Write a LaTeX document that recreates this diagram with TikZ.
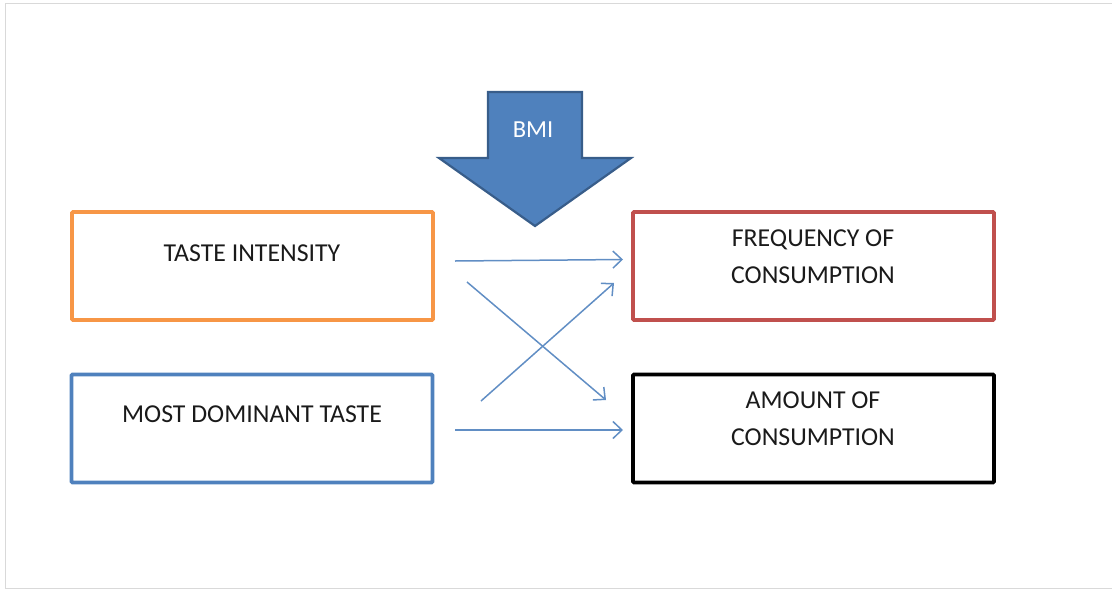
\documentclass[tikz,border=0pt]{standalone}
\usepackage{fontspec}
\setmainfont{Carlito}
\usetikzlibrary{arrows.meta,calc}
\definecolor{oOrange}{HTML}{F79646}
\definecolor{oBlue}{HTML}{4F81BD}
\definecolor{oRed}{HTML}{C0504D}
\definecolor{oDark}{HTML}{385D8A}
\definecolor{oFrame}{HTML}{D9D9D9}
\definecolor{oText}{HTML}{1A1A1A}
\begin{document}
\begin{tikzpicture}[x=1pt,y=-1pt,
  boxst/.style={draw,line width=3.6pt,rounded corners=1pt,minimum width=361pt,minimum height=108pt,inner sep=0pt},
  txt/.style={font=\fontsize{25.8}{37}\selectfont,text=oText,inner sep=0pt,align=center},
  conn/.style={draw=oBlue!90,line width=1.5pt,-{Straight Barb[length=9pt,width=17pt,line width=1.5pt]}}]
\useasboundingbox (0,0) rectangle (1112,590);
\draw[oFrame,line width=1.5pt] (1112,3.5) -- (5.5,3.5) -- (5.5,588.5) -- (1112,588.5);
% boxes
\node[boxst,draw=oOrange] (ti) at (252.5,266) {};
\node[boxst,draw=oBlue] (md) at (252,428.5) {};
\node[boxst,draw=oRed] (fc) at (813.5,266) {};
\node[boxst,draw=black] (ac) at (813.5,428.5) {};
% texts
\node[txt] (tit) at (252,253) {TASTE INTENSITY};
\node[txt] (mdt) at (252,414) {MOST DOMINANT TASTE};
\node[txt] (fct) at (813,257) {FREQUENCY OF\\CONSUMPTION};
\node[txt] (act) at (813,419) {AMOUNT OF\\CONSUMPTION};
% BMI arrow
\draw[fill=oBlue,draw=oDark,line width=2.2pt,line join=miter]
  (488,92) -- (582,92) -- (582,158) -- (631,158) -- (535,226) -- (439,158) -- (488,158) -- cycle;
\node[font=\fontsize{24.5}{28}\selectfont,text=white,inner sep=0pt] (bmi) at (533,130) {BMI};
% connector end points
\coordinate (c1s) at (455,261);
\coordinate (c1e) at (623,259.5);
\coordinate (c2s) at (467,282);
\coordinate (c2e) at (606,400);
\coordinate (c3s) at (481,401);
\coordinate (c3e) at (614,283);
\coordinate (c4s) at (455,430);
\coordinate (c4e) at (623,430);
\draw[conn] (c1s) -- (c1e);
\draw[conn] (c2s) -- (c2e);
\draw[conn] (c3s) -- (c3e);
\draw[conn] (c4s) -- (c4e);
\end{tikzpicture}
\end{document}
